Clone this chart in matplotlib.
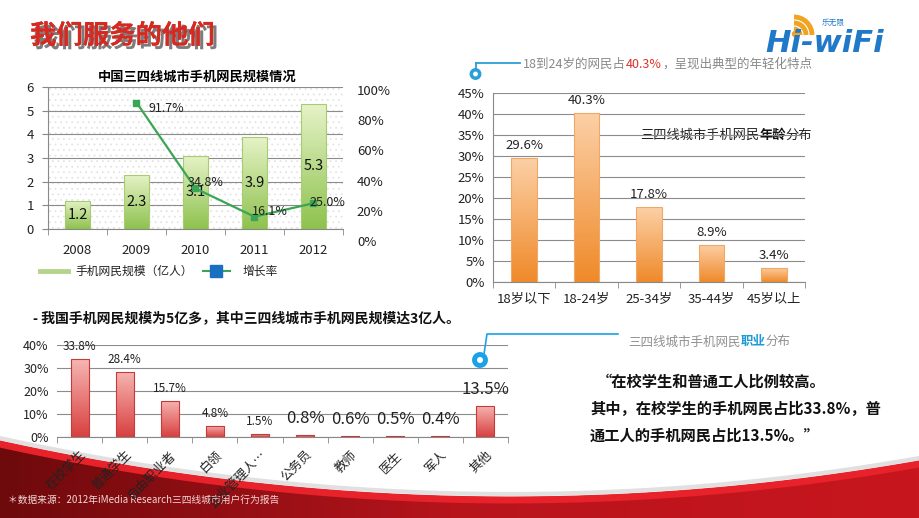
import numpy as np
import matplotlib
matplotlib.use('Agg')
import matplotlib.pyplot as plt
from matplotlib.colors import LinearSegmentedColormap
from matplotlib.patches import Polygon, Rectangle, Circle, Arc
import matplotlib.patheffects as pe

plt.rcParams['font.family'] = ['Noto Sans CJK SC', 'DejaVu Sans']
plt.rcParams['hatch.linewidth'] = 0.6

# ---------------- data ----------------
years = ['2008', '2009', '2010', '2011', '2012']
users = [1.2, 2.3, 3.1, 3.9, 5.3]
growth_years = ['2009', '2010', '2011', '2012']
growth = [91.7, 34.8, 16.1, 25.0]
left_ticks = [0, 1, 2, 3, 4, 5, 6]
right_ticks = [0, 20, 40, 60, 80, 100]

ages = ['18岁以下', '18-24岁', '25-34岁', '35-44岁', '45岁以上']
age_share = [29.6, 40.3, 17.8, 8.9, 3.4]
age_ticks = [0, 5, 10, 15, 20, 25, 30, 35, 40, 45]

jobs = ['在校学生', '普通学生', '自由职业者', '白领', '企业管理人…', '公务员', '教师', '医生', '军人', '其他']
job_share = [33.8, 28.4, 15.7, 4.8, 1.5, 0.8, 0.6, 0.5, 0.4, 13.5]
job_ticks = [0, 10, 20, 30, 40]

W, H = 920, 518
fig = plt.figure(figsize=(9.2, 5.18), dpi=100)


def rect(x0, y0, x1, y1):
    return [x0 / W, 1 - y1 / H, (x1 - x0) / W, (y1 - y0) / H]


def grad_bars(ax, bars, c_top, c_bot):
    cmap = LinearSegmentedColormap.from_list('g', [c_bot, c_top])
    grad = np.linspace(0, 1, 100).reshape(-1, 1)
    for b in bars:
        x0, y0 = b.get_x(), b.get_y()
        w, h = b.get_width(), b.get_height()
        im = ax.imshow(grad, extent=[x0, x0 + w, y0, y0 + h], origin='lower',
                       aspect='auto', cmap=cmap, zorder=2)
        im.set_clip_path(b)


# ---------------- background layer ----------------
bg = fig.add_axes([0, 0, 1, 1], zorder=-5)
bg.set_xlim(0, W)
bg.set_ylim(H, 0)
bg.axis('off')

xs = np.linspace(0, W, 200)
edge = 497 - 2.15e-4 * (xs - 510) ** 2
poly = np.vstack([np.column_stack([xs, edge]), [[W, H], [0, H]]])
wave = Polygon(poly, closed=True, facecolor='#b5141b', edgecolor='none')
bg.add_patch(wave)
wcmap = LinearSegmentedColormap.from_list('w', ['#6e0a0c', '#b8141c', '#c8161e'])
gim = bg.imshow(np.linspace(0, 1, 200).reshape(1, -1), extent=[0, W, H, 430],
                aspect='auto', cmap=wcmap, zorder=1)
gim.set_clip_path(wave)
bg.plot(xs, edge - 3, color='#e0e0e0', lw=3, zorder=0.5)
bg.plot(xs, edge + 3, color='#e8222a', lw=5, zorder=2)
bg.set_xlim(0, W)
bg.set_ylim(H, 0)

bg.text(8, 500, '＊数据来源：2012年iMedia Research三四线城市用户行为报告', fontsize=7,
        color='#f3d6d6', va='center', zorder=3)

# Title
bg.text(30, 36, '我们服务的他们', fontsize=19, fontweight='heavy', color='#d42a22',
        va='center', zorder=3,
        path_effects=[pe.withSimplePatchShadow(offset=(2.5, -2.5), shadow_rgbFace='#444444', alpha=0.7),
                      pe.Normal()])

# Logo
for r in [6, 12, 18]:
    bg.add_patch(Arc((794, 35), 2 * r, 2 * r, theta1=270, theta2=360, color='#f0a422', lw=3.5, zorder=3))
bg.add_patch(Circle((795, 34), 2.5, color='#f0a422', zorder=3))
bg.text(765, 43, 'Hi-wiFi', fontsize=22, fontweight='bold', fontstyle='italic', color='#1f78c8',
        family='DejaVu Sans', va='center', zorder=3)
bg.text(822, 23, '乐无限', fontsize=5.5, color='#1f78c8', va='center', zorder=3)

# ---------------- chart 1 ----------------
ax1 = fig.add_axes(rect(48, 87, 343, 229))
x = np.arange(len(years))
ax1.add_patch(Rectangle((0, 0), 1, 1, transform=ax1.transAxes, facecolor='white',
                        edgecolor='#e4e4e4', hatch='...', lw=0, zorder=0))
bars1 = ax1.bar(x, users, width=0.41, color='none', edgecolor='#a8cc70', lw=0.8, zorder=3)
grad_bars(ax1, bars1, '#e6f3c8', '#8ec24e')
for i, v in enumerate(users):
    ax1.text(i, v / 2, f'{v}', ha='center', va='center', fontsize=10.5, color='#111111', zorder=6)
ax1.set_xlim(-0.5, len(years) - 0.5)
ax1.set_ylim(0, 6)
ax1.set_yticks(left_ticks)
ax1.set_yticklabels([str(t) for t in left_ticks], fontsize=9.5, color='#222222')
ax1.yaxis.grid(True, color='#8c8c8c', lw=0.8)
ax1.set_axisbelow(True)
ax1.set_xticks(x)
ax1.set_xticklabels(years, fontsize=9.5, color='#222222')
ax1.tick_params(axis='x', length=0, pad=11)
ax1.set_xticks(np.arange(-0.5, len(years), 1), minor=True)
ax1.tick_params(axis='x', which='minor', length=4, color='#888888')
ax1.tick_params(axis='y', length=4, color='#888888', pad=6)
for s in ['top', 'right']:
    ax1.spines[s].set_visible(False)
for s in ['left', 'bottom']:
    ax1.spines[s].set_color('#888888')
ax1.set_facecolor('none')

ax1b = fig.add_axes(rect(48, 90, 343, 241), facecolor='none')
gx = [years.index(y) for y in growth_years]
ax1b.plot(gx, [g / 100 for g in growth], color='#3aa655', lw=1.6, marker='s', markersize=5,
          markerfacecolor='#3aa655', zorder=5)
offs = [(12, -6), (-8, 6), (-3, 5), (-4, 1)]
for xi, g, o in zip(gx, growth, offs):
    ax1b.annotate(f'{g}%', (xi, g / 100), xytext=o, textcoords='offset pixels', ha='left',
                  va='center', fontsize=9, color='#222222', zorder=6)
ax1b.set_xlim(-0.5, len(years) - 0.5)
ax1b.set_ylim(0, 1)
ax1b.set_xticks([])
ax1b.yaxis.tick_right()
ax1b.set_yticks([t / 100 for t in right_ticks])
ax1b.set_yticklabels([f'{t}%' for t in right_ticks], fontsize=9.5, color='#222222')
ax1b.tick_params(axis='y', length=0, pad=10)
for s in ax1b.spines.values():
    s.set_visible(False)

fig.text(197 / W, 1 - 77 / H, '中国三四线城市手机网民规模情况', fontsize=9.5, fontweight='bold',
         ha='center', va='center')
# legend
bg.plot([40, 68], [271, 271], color='#b5d48a', lw=3.5)
bg.text(75, 271, '手机网民规模（亿人）', fontsize=8.5, va='center', color='#222222')
bg.plot([203, 230], [271, 271], color='#3aa655', lw=1.5)
bg.plot([216.5], [271], marker='s', markersize=9, color='#1a70c0')
bg.text(243, 271, '增长率', fontsize=8.5, va='center', color='#222222')

# ---------------- chart 2 ----------------
ax2 = fig.add_axes(rect(493, 93, 805, 282), facecolor='none')
x2 = np.arange(len(ages))
bars2 = ax2.bar(x2, age_share, width=0.41, color='none', edgecolor='#f0a868', lw=0.8, zorder=3)
grad_bars(ax2, bars2, '#fcd0a6', '#ef8a2a')
for i, v in enumerate(age_share):
    ax2.annotate(f'{v}%', (i, v), xytext=(0, 6), textcoords='offset pixels', ha='center',
                 va='bottom', fontsize=9.5, color='#222222')
ax2.set_xlim(-0.5, len(ages) - 0.5)
ax2.set_ylim(0, 45)
ax2.set_yticks(age_ticks)
ax2.set_yticklabels([f'{t}%' for t in age_ticks], fontsize=9.5, color='#222222')
ax2.yaxis.grid(True, color='#8c8c8c', lw=0.8)
ax2.set_axisbelow(True)
ax2.set_xticks(x2)
ax2.set_xticklabels(ages, fontsize=9.5, color='#222222')
ax2.tick_params(axis='x', length=0, pad=8)
ax2.set_xticks(np.arange(-0.5, len(ages), 1), minor=True)
ax2.tick_params(axis='x', which='minor', length=4, color='#888888')
ax2.tick_params(axis='y', length=0, pad=6)
for s in ['top', 'right']:
    ax2.spines[s].set_visible(False)
for s in ['left', 'bottom']:
    ax2.spines[s].set_color('#888888')

t = bg.text(640, 135, '三四线城市手机网民', fontsize=9.5, color='#222222', va='center')
t = bg.annotate('年龄', xy=(1, 0), xycoords=t, fontsize=9.5, fontweight='bold', color='#111111', va='bottom')
bg.annotate('分布', xy=(1, 0), xycoords=t, fontsize=9.5, color='#222222', va='bottom')

bg.plot([476, 520], [63, 63], color='#2a9fd8', lw=1.3)
bg.plot([476, 476], [63, 69], color='#2a9fd8', lw=1.3)
bg.add_patch(Circle((475.5, 74), 4.2, facecolor='white', edgecolor='#2a9fd8', lw=2.5, zorder=3))
t = bg.text(523, 64, '18到24岁的网民占', fontsize=9, color='#888888', va='center')
t = bg.annotate('40.3%', xy=(1, 0), xycoords=t, fontsize=9, color='#e0302a', va='bottom')
bg.annotate('，呈现出典型的年轻化特点', xy=(1, 0), xycoords=t, fontsize=9, color='#888888', va='bottom')

# ---------------- heading ----------------
bg.text(33, 318, '- 我国手机网民规模为5亿多，其中三四线城市手机网民规模达3亿人。', fontsize=10,
        fontweight='bold', color='#111111', va='center')

# ---------------- chart 3 ----------------
ax3 = fig.add_axes(rect(57, 345, 508, 437), facecolor='none')
x3 = np.arange(len(jobs))
bars3 = ax3.bar(x3, job_share, width=0.4, color='none', edgecolor='#c83a3a', lw=0.8, zorder=3)
grad_bars(ax3, bars3, '#f6b6b2', '#d84040')
for i, v in enumerate(job_share):
    fs = 12 if i >= 5 else 8.5
    off = 8 if i >= 5 else 6
    ax3.annotate(f'{v}%', (i, v), xytext=(0, off), textcoords='offset pixels', ha='center',
                 va='bottom', fontsize=fs, color='#222222')
ax3.set_xlim(-0.5, len(jobs) - 0.5)
ax3.set_ylim(0, 40)
ax3.set_yticks(job_ticks)
ax3.set_yticklabels([f'{t}%' for t in job_ticks], fontsize=9, color='#222222')
ax3.yaxis.grid(True, color='#8c8c8c', lw=0.8)
ax3.set_axisbelow(True)
ax3.set_xticks(x3)
ax3.set_xticklabels(jobs, fontsize=9, color='#222222', rotation=45, ha='right',
                    rotation_mode='anchor')
ax3.tick_params(axis='x', length=0, pad=8)
ax3.set_xticks(np.arange(-0.5, len(jobs), 1), minor=True)
ax3.tick_params(axis='x', which='minor', length=4, color='#888888')
ax3.tick_params(axis='y', length=0, pad=6)
for s in ['top', 'right', 'left']:
    ax3.spines[s].set_visible(False)
ax3.spines['bottom'].set_color('#888888')

bg.plot([484, 487, 618], [354, 334, 334], color='#1aa3e8', lw=1.2)
bg.add_patch(Circle((480, 360), 5.5, facecolor='white', edgecolor='#1aa3e8', lw=3.5, zorder=3))
t = bg.text(628, 342, '三四线城市手机网民', fontsize=9, color='#909090', va='center')
t = bg.annotate('职业', xy=(1, 0), xycoords=t, fontsize=9, fontweight='bold', color='#1a9ad8', va='bottom')
bg.annotate('分布', xy=(1, 0), xycoords=t, fontsize=9, color='#909090', va='bottom')

bg.text(597, 382, '“在校学生和普通工人比例较高。', fontsize=11, fontweight='bold', color='#111111', va='center')
bg.text(590, 409, '其中，在校学生的手机网民占比33.8%，普', fontsize=11, fontweight='bold', color='#111111', va='center')
bg.text(590, 436, '通工人的手机网民占比13.5%。”', fontsize=11, fontweight='bold', color='#111111', va='center')

fig.savefig('out.png', dpi=100)
